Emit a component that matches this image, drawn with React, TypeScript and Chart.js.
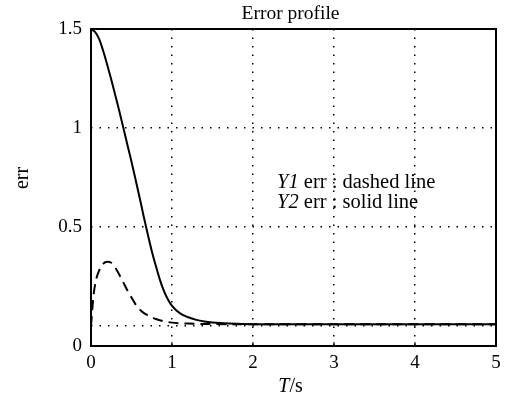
import React, { useEffect, useRef } from "react";
import { Chart, registerables } from "chart.js";

Chart.register(...registerables);

// ---- Data ----
const timeY2 = [0, 0.05, 0.1, 0.15, 0.2, 0.25, 0.3, 0.35, 0.4, 0.45, 0.5, 0.55, 0.6, 0.65, 0.7, 0.75, 0.8, 0.85, 0.9, 0.95, 1.0, 1.1, 1.2, 1.3, 1.4, 1.5, 1.6, 1.8, 2.0, 2.5, 3, 3.5, 4, 4.5, 5];
const errY2 = [1.5, 1.485, 1.45, 1.39, 1.32, 1.245, 1.165, 1.085, 1.0, 0.915, 0.83, 0.74, 0.65, 0.555, 0.465, 0.38, 0.305, 0.235, 0.178, 0.135, 0.103, 0.065, 0.045, 0.032, 0.024, 0.019, 0.016, 0.012, 0.01, 0.01, 0.01, 0.01, 0.01, 0.01, 0.01];

const timeY1 = [0, 0.03, 0.06, 0.1, 0.15, 0.2, 0.25, 0.3, 0.35, 0.4, 0.45, 0.5, 0.55, 0.6, 0.65, 0.7, 0.75, 0.8, 0.9, 1.0, 1.2, 1.5, 2.0, 2.5, 3, 3.5, 4, 4.5, 5];
const errY1 = [0.0, 0.15, 0.23, 0.28, 0.315, 0.325, 0.32, 0.295, 0.26, 0.22, 0.18, 0.145, 0.11, 0.085, 0.067, 0.055, 0.045, 0.036, 0.025, 0.018, 0.013, 0.011, 0.01, 0.01, 0.01, 0.01, 0.01, 0.01, 0.01];

const xTickValues = [0, 1, 2, 3, 4, 5];
const yTickValues = [-0.1, 0, 0.5, 1, 1.5];
const yTickLabels = ["0", "", "0.5", "1", "1.5"];
const xGridValues = [1, 2, 3, 4];
const yGridValues = [0, 0.5, 1];

const titleText = "Error profile";
const yAxisTitle = "err";
const legendLines = [
  { name: "Y1", rest: " err : dashed line" },
  { name: "Y2", rest: " err : solid line" },
];

const SERIF = "'Liberation Serif', 'Times New Roman', serif";

const overlayPlugin = {
  id: "overlay",
  afterDraw(chart: any) {
    const { ctx, chartArea } = chart;
    const { left, right, top, bottom } = chartArea;
    const xs = chart.scales.x;
    ctx.save();
    // frame
    ctx.strokeStyle = "#000";
    ctx.lineWidth = 2;
    ctx.setLineDash([]);
    ctx.strokeRect(left, top, right - left, bottom - top);
    // small inner tick marks on bottom axis
    ctx.lineWidth = 1;
    xGridValues.forEach((v) => {
      const px = xs.getPixelForValue(v);
      ctx.beginPath();
      ctx.moveTo(px, bottom);
      ctx.lineTo(px, bottom - 4);
      ctx.stroke();
    });
    ctx.fillStyle = "#000";
    // title
    ctx.font = `19.5px ${SERIF}`;
    ctx.textAlign = "center";
    ctx.textBaseline = "alphabetic";
    ctx.fillText(titleText, (left + right) / 2 - 3, 19);
    // x axis title: T/s with italic T
    ctx.font = `italic 20px ${SERIF}`;
    const tW = ctx.measureText("T").width;
    ctx.font = `20px ${SERIF}`;
    const sW = ctx.measureText("/s").width;
    const cx = (left + right) / 2 - 3;
    const startX = cx - (tW + sW) / 2;
    ctx.textAlign = "left";
    ctx.font = `italic 20px ${SERIF}`;
    ctx.fillText("T", startX, 392);
    ctx.font = `20px ${SERIF}`;
    ctx.fillText("/s", startX + tW, 392);
    // y axis title
    ctx.save();
    ctx.translate(28, 178);
    ctx.rotate(-Math.PI / 2);
    ctx.textAlign = "center";
    ctx.font = `20px ${SERIF}`;
    ctx.fillText(yAxisTitle, 0, 0);
    ctx.restore();
    // legend text
    legendLines.forEach((ln, i) => {
      const y = 188 + i * 20;
      let x = 277;
      ctx.textAlign = "left";
      ctx.font = `italic 20.5px ${SERIF}`;
      ctx.fillText(ln.name, x, y);
      x += ctx.measureText(ln.name).width;
      ctx.font = `20.5px ${SERIF}`;
      ctx.fillText(ln.rest, x, y);
    });
    ctx.restore();
  },
};

export default function App() {
  const canvasRef = useRef<HTMLCanvasElement | null>(null);

  useEffect(() => {
    document.body.style.margin = "0";
    const canvas = canvasRef.current;
    if (!canvas) return;
    const chart = new Chart(canvas, {
      type: "line",
      data: {
        datasets: [
          {
            label: "Y2 err",
            data: timeY2.map((t, i) => ({ x: t, y: errY2[i] })),
            borderColor: "#000",
            borderWidth: 2,
            pointRadius: 0,
            fill: false,
            cubicInterpolationMode: "monotone",
          },
          {
            label: "Y1 err",
            data: timeY1.map((t, i) => ({ x: t, y: errY1[i] })),
            borderColor: "#000",
            borderWidth: 2,
            borderDash: [10, 6],
            pointRadius: 0,
            fill: false,
            cubicInterpolationMode: "monotone",
          },
        ],
      },
      options: {
        animation: false,
        responsive: false,
        maintainAspectRatio: false,
        layout: { padding: { top: 29, right: 15, left: 0, bottom: 0 } },
        plugins: {
          legend: { display: false },
          title: { display: false },
          tooltip: { enabled: false },
        },
        scales: {
          x: {
            type: "linear",
            min: 0,
            max: 5,
            afterBuildTicks: (scale: any) => {
              scale.ticks = xTickValues.map((v) => ({ value: v }));
            },
            afterFit: (scale: any) => {
              scale.height = 53;
            },
            ticks: {
              color: "#000",
              font: { family: SERIF, size: 19 },
              padding: 6,
              maxRotation: 0,
              autoSkip: false,
              callback: (v: any) => String(v),
            },
            grid: {
              drawTicks: false,
              lineWidth: 1.5,
              color: (c: any) =>
                c.tick && xGridValues.includes(c.tick.value) ? "#000" : "rgba(0,0,0,0)",
            },
            border: { display: false, dash: [1.5, 7] },
          },
          y: {
            type: "linear",
            min: -0.1,
            max: 1.5,
            afterBuildTicks: (scale: any) => {
              scale.ticks = yTickValues.map((v) => ({ value: v }));
            },
            afterFit: (scale: any) => {
              scale.width = 91;
            },
            ticks: {
              color: "#000",
              font: { family: SERIF, size: 19 },
              padding: 9,
              autoSkip: false,
              callback: (_v: any, i: number) => yTickLabels[i],
            },
            grid: {
              drawTicks: false,
              lineWidth: 1.5,
              color: (c: any) =>
                c.tick && yGridValues.includes(c.tick.value) ? "#000" : "rgba(0,0,0,0)",
            },
            border: { display: false, dash: [1.5, 7] },
          },
        },
      },
      plugins: [overlayPlugin],
    } as any);
    return () => chart.destroy();
  }, []);

  return (
    <div style={{ width: 511, height: 399, background: "#fff" }}>
      <canvas ref={canvasRef} width={511} height={399} style={{ display: "block" }} />
    </div>
  );
}
